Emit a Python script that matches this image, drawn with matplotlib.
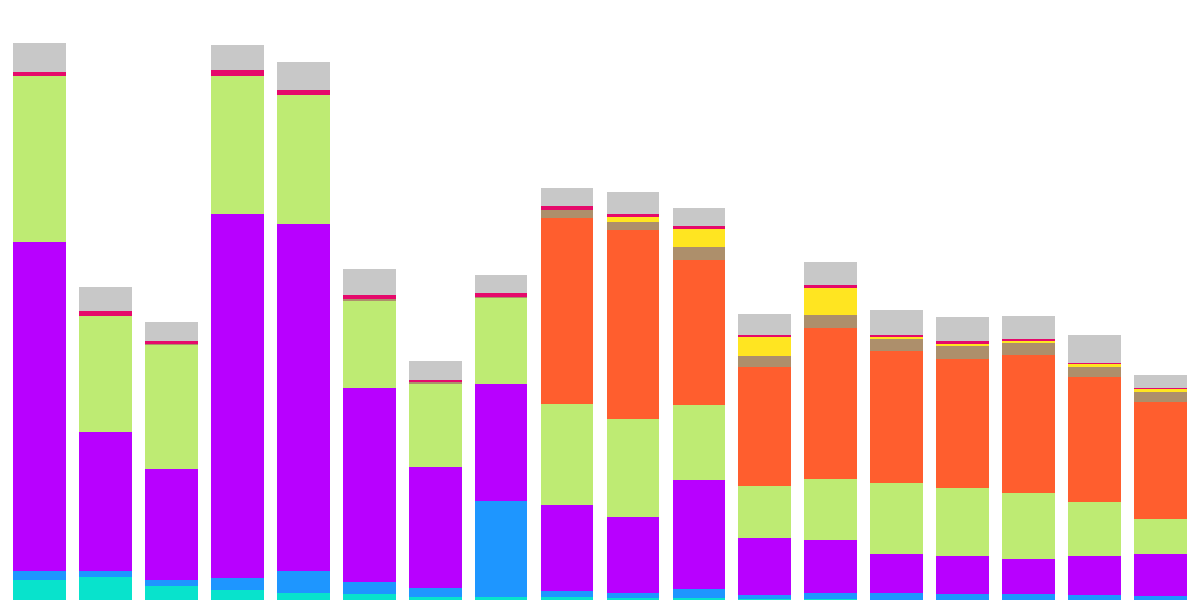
import numpy as np
import matplotlib
matplotlib.use("Agg")
import matplotlib.pyplot as plt

# stacked segments, bottom to top, one value per bar
cyan   = [20, 23, 14, 10, 7, 6, 3, 3, 3, 2, 2, 1, 1, 0, 0, 0, 0, 0]
blue   = [9, 6, 6, 12, 22, 12, 9, 96, 6, 5, 9, 4, 6, 7, 6, 6, 5, 4]
purple = [329, 139, 111, 364, 347, 194, 121, 117, 86, 76, 109, 57, 53, 39, 38, 35, 39, 42]
green  = [166, 116, 124, 138, 129, 87, 83, 86, 101, 98, 75, 52, 61, 71, 68, 66, 54, 35]
orange = [0, 0, 0, 0, 0, 0, 0, 0, 186, 189, 145, 119, 151, 132, 129, 138, 125, 117]
brown  = [0, 0, 1.5, 0, 0, 2, 2, 1, 8, 8, 13, 11, 13, 12, 13, 12, 10, 10]
yellow = [0, 0, 0, 0, 0, 0, 0, 0, 0, 5, 18, 19, 27, 2, 2, 2, 3, 3]
pink   = [4, 5, 3, 6, 5.5, 4, 2, 4, 4, 3, 3, 2, 3, 2, 3, 2, 1, 1.5]
gray   = [29, 24, 19, 25, 28, 26, 19, 18, 18, 22, 18, 21, 23, 25, 24, 23, 28, 13]

series = [cyan, blue, purple, green, orange, brown, yellow, pink, gray]
colors = ["#08E3CC", "#1E96FF", "#B800FF", "#BEEB73", "#FF5E2E",
          "#AD8F6B", "#FFE521", "#E50A6B", "#C8C8C8"]

x = np.arange(len(cyan))

fig = plt.figure(figsize=(12, 6), dpi=100)
ax = fig.add_axes([6.5 / 1200, 0, 1187 / 1200, 1])

bottom = np.zeros(len(x))
for vals, c in zip(series, colors):
    vals = np.array(vals, dtype=float)
    ax.bar(x, vals, width=0.8, bottom=bottom, color=c, linewidth=0)
    bottom += vals

ax.set_xlim(-0.5, len(x) - 0.5)
ax.set_ylim(0, 600)
ax.axis("off")

fig.savefig("out.png", dpi=100)
